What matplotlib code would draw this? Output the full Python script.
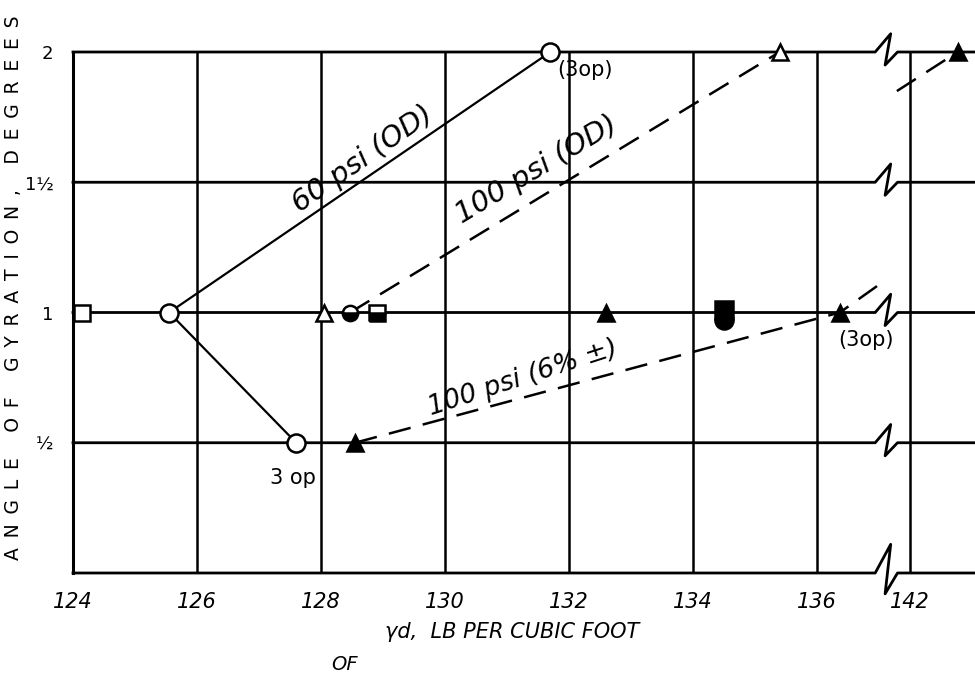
import numpy as np
import matplotlib
matplotlib.use('Agg')
import matplotlib.pyplot as plt

# density axis values, lb per cubic foot (axis is broken between 137 and 142)
tick_x = [124, 126, 128, 130, 132, 134, 136, 142]
tick_lbl = ['124', '126', '128', '130', '132', '134', '136', '142']
grid_x = [126, 128, 130, 132, 134, 136, 142]
level_y = [0, 0.5, 1, 1.5, 2]
level_lbl = ['', '½', '1', '1½', '2']

# 60 psi (OD) solid lines
psi60_x = [125.55, 131.7]
psi60_y = [1.0, 2.0]
psi60_lo_x = [125.55, 127.6]
psi60_lo_y = [1.0, 0.5]

# 100 psi (OD) dashed
psi100_x = [128.47, 135.4]
psi100_y = [1.0, 2.0]
psi100_r_x = [141.79, 142.77]
psi100_r_y = [1.85, 2.0]

# 100 psi (6% +-) dashed
psi6_x = [128.55, 136.37, 137.05]
psi6_y = [0.5, 1.0, 1.115]

# markers
open_sq = ([124.15], [1.0])
open_circ = ([125.55, 127.6, 131.7], [1.0, 0.5, 2.0])
open_tri = ([128.05, 135.4], [1.0, 2.0])
half_circ = ([128.47], [1.0])
half_sq = ([128.9], [1.0])
fill_tri = ([132.6, 128.55, 136.37, 142.77], [1.0, 0.5, 1.0, 2.0])
fill_sq = ([134.5], [1.01])
fill_circ = ([134.5], [0.97])

# broken axis: squeeze 137.05..141.6 into a tiny band
brk_x = [100, 137.05, 141.6, 200]
brk_p = [100, 137.05, 137.1, 195.5]


def fwd(x):
    return np.interp(x, brk_x, brk_p)


def inv(p):
    return np.interp(p, brk_p, brk_x)


fig = plt.figure(figsize=(9.75, 6.77), dpi=100)
ax = fig.add_axes([73 / 975, 104 / 677, 1 - 73 / 975, (573 - 52) / 677])
ax.set_xscale('function', functions=(fwd, inv))
ax.set_xlim(124, 143.05)
ax.set_ylim(0, 2)

for s in ['top', 'bottom', 'right']:
    ax.spines[s].set_visible(False)
ax.spines['left'].set_linewidth(2.2)

# horizontal lines with zigzag break
for y in level_y:
    up = 0.11 if y == 0 else 0.07
    dn = 0.08 if y == 0 else 0.05
    ax.plot([124, 136.94, 141.69, 141.6, 141.8, 143.05],
            [y, y, y + up, y - dn, y, y], color='k', lw=2.0, clip_on=False, zorder=2)

ax.vlines(grid_x, 0, 2, color='k', lw=1.8, zorder=2)

ax.set_xticks(tick_x)
ax.set_xticklabels(tick_lbl, fontsize=15, style='italic')
ax.set_yticks(level_y)
ax.set_yticklabels(level_lbl, fontsize=13)
ax.tick_params(axis='y', length=0, pad=14)
ax.tick_params(axis='x', length=0, pad=14)
ax.minorticks_off()

# lines
ax.plot(psi60_x, psi60_y, color='k', lw=1.6, zorder=3)
ax.plot(psi60_lo_x, psi60_lo_y, color='k', lw=1.6, zorder=3)
dash = (0, (9, 5))
ax.plot(psi100_x, psi100_y, color='k', lw=1.8, ls=dash, zorder=3)
ax.plot(psi100_r_x, psi100_r_y, color='k', lw=1.8, ls=dash, zorder=3, clip_on=False)
ax.plot(psi6_x, psi6_y, color='k', lw=1.8, ls=dash, zorder=3)

mk = dict(color='k', ls='none', clip_on=False, zorder=5, markeredgewidth=1.8)
ax.plot(*open_sq, marker='s', ms=12, mfc='white', **mk)
ax.plot(*open_circ, marker='o', ms=13, mfc='white', **mk)
ax.plot(*open_tri, marker='^', ms=12, mfc='white', **mk)
ax.plot(*half_circ, marker='o', ms=11, fillstyle='bottom', mfc='k', mfcalt='white', **mk)
ax.plot(*half_sq, marker='s', ms=11, fillstyle='bottom', mfc='k', mfcalt='white', **mk)
ax.plot(*fill_tri, marker='^', ms=11, mfc='k', **mk)
ax.plot(*fill_sq, marker='s', ms=13, mfc='k', **mk)
ax.plot(*fill_circ, marker='o', ms=13, mfc='k', **mk)

# annotations
ax.text(128.68, 1.59, '60 psi (OD)', fontsize=21, style='italic', rotation=35,
        ha='center', va='center', rotation_mode='anchor')
ax.text(131.48, 1.55, '100 psi (OD)', fontsize=21, style='italic', rotation=31,
        ha='center', va='center', rotation_mode='anchor')
ax.text(131.26, 0.75, '100 psi (6% ±)', fontsize=19, style='italic', rotation=18,
        ha='center', va='center', rotation_mode='anchor')
ax.text(132.26, 1.93, '(3op)', fontsize=15, ha='center', va='center')
ax.text(136.79, 0.895, '(3op)', fontsize=15, ha='center', va='center')
ax.text(127.55, 0.365, '3 op', fontsize=15, ha='center', va='center')

fig.text(512 / 975, 1 - 632 / 677, 'γd,  LB PER CUBIC FOOT', fontsize=15, style='italic',
         ha='center', va='center')
fig.text(345 / 975, 1 - 664 / 677, 'OF', fontsize=14, style='italic', ha='center', va='center')
ylab = ' \u2009'.join('ANGLE OF GYRATION, DEGREES').replace(' \u2009 \u2009 \u2009', '   ')
fig.text(14 / 975, 1 - 288 / 677, ylab, fontsize=13.5, rotation=90, ha='center', va='center')

fig.savefig('out.png', dpi=100, facecolor='white')
